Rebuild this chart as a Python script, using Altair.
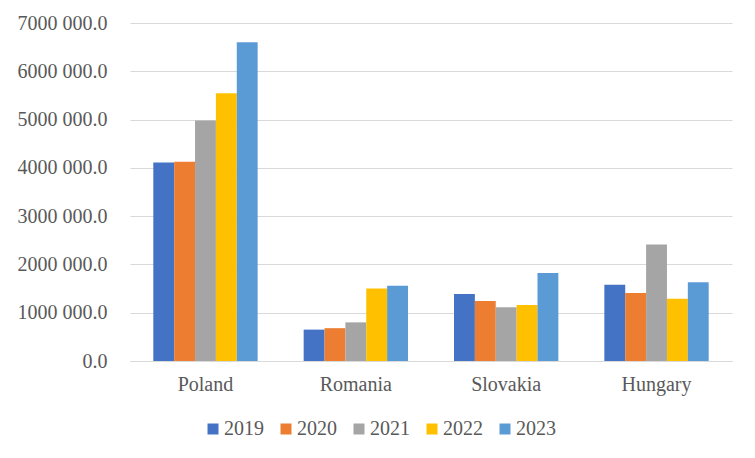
import altair as alt
import pandas as pd

countries = ["Poland", "Romania", "Slovakia", "Hungary"]
years = ["2019", "2020", "2021", "2022", "2023"]
v2019 = [4110000, 650000, 1385000, 1580000]
v2020 = [4125000, 680000, 1245000, 1410000]
v2021 = [4980000, 800000, 1115000, 2415000]
v2022 = [5545000, 1500000, 1160000, 1287000]
v2023 = [6600000, 1560000, 1820000, 1633000]
colors = ["#4472C4", "#ED7D31", "#A5A5A5", "#FFC000", "#5B9BD5"]
y_ticks = [0, 1000000, 2000000, 3000000, 4000000, 5000000, 6000000, 7000000]

series = [v2019, v2020, v2021, v2022, v2023]
rows = []
for yr, vals in zip(years, series):
    for c, v in zip(countries, vals):
        rows.append({"country": c, "year": yr, "value": v})
df = pd.DataFrame(rows)

FONT = "Liberation Serif, Times New Roman, serif"
TXT = "#595959"

chart = alt.Chart(df).mark_bar().encode(
    x=alt.X("country:N", sort=countries, title=None,
            scale=alt.Scale(paddingInner=0.306, paddingOuter=0.155),
            axis=alt.Axis(labelAngle=0, ticks=False, domainColor="#d9d9d9",
                          labelPadding=13, labelFontSize=20, labelFont=FONT,
                          labelColor=TXT, grid=False)),
    xOffset=alt.XOffset("year:N", sort=years, scale=alt.Scale(paddingInner=0, paddingOuter=0)),
    y=alt.Y("value:Q", title=None,
            scale=alt.Scale(domain=[0, 7000000], nice=False),
            axis=alt.Axis(values=y_ticks, domain=False, ticks=False, labelPadding=23,
                          labelFontSize=20, labelFont=FONT, labelColor=TXT,
                          gridColor="#d9d9d9", gridWidth=1,
                          labelExpr="datum.value == 0 ? '0.0' : format(datum.value / 1000000, 'd') + '000 000.0'")),
    color=alt.Color("year:N", sort=years, title=None,
                    scale=alt.Scale(domain=years, range=colors),
                    legend=alt.Legend(orient="none", direction="horizontal",
                                      legendX=73, legendY=396,
                                      symbolType="square", symbolSize=121,
                                      symbolStrokeWidth=0, labelOffset=1,
                                      columnPadding=12, labelFontSize=20,
                                      labelFont=FONT, labelColor=TXT)),
).properties(
    width=602, height=338,
    autosize="none",
    padding={"left": 122, "top": 15, "right": 15, "bottom": 89},
).configure(
    background="white", font=FONT
).configure_view(stroke=None)

chart.save("out.html", embed_options={"renderer": "svg", "actions": False})
